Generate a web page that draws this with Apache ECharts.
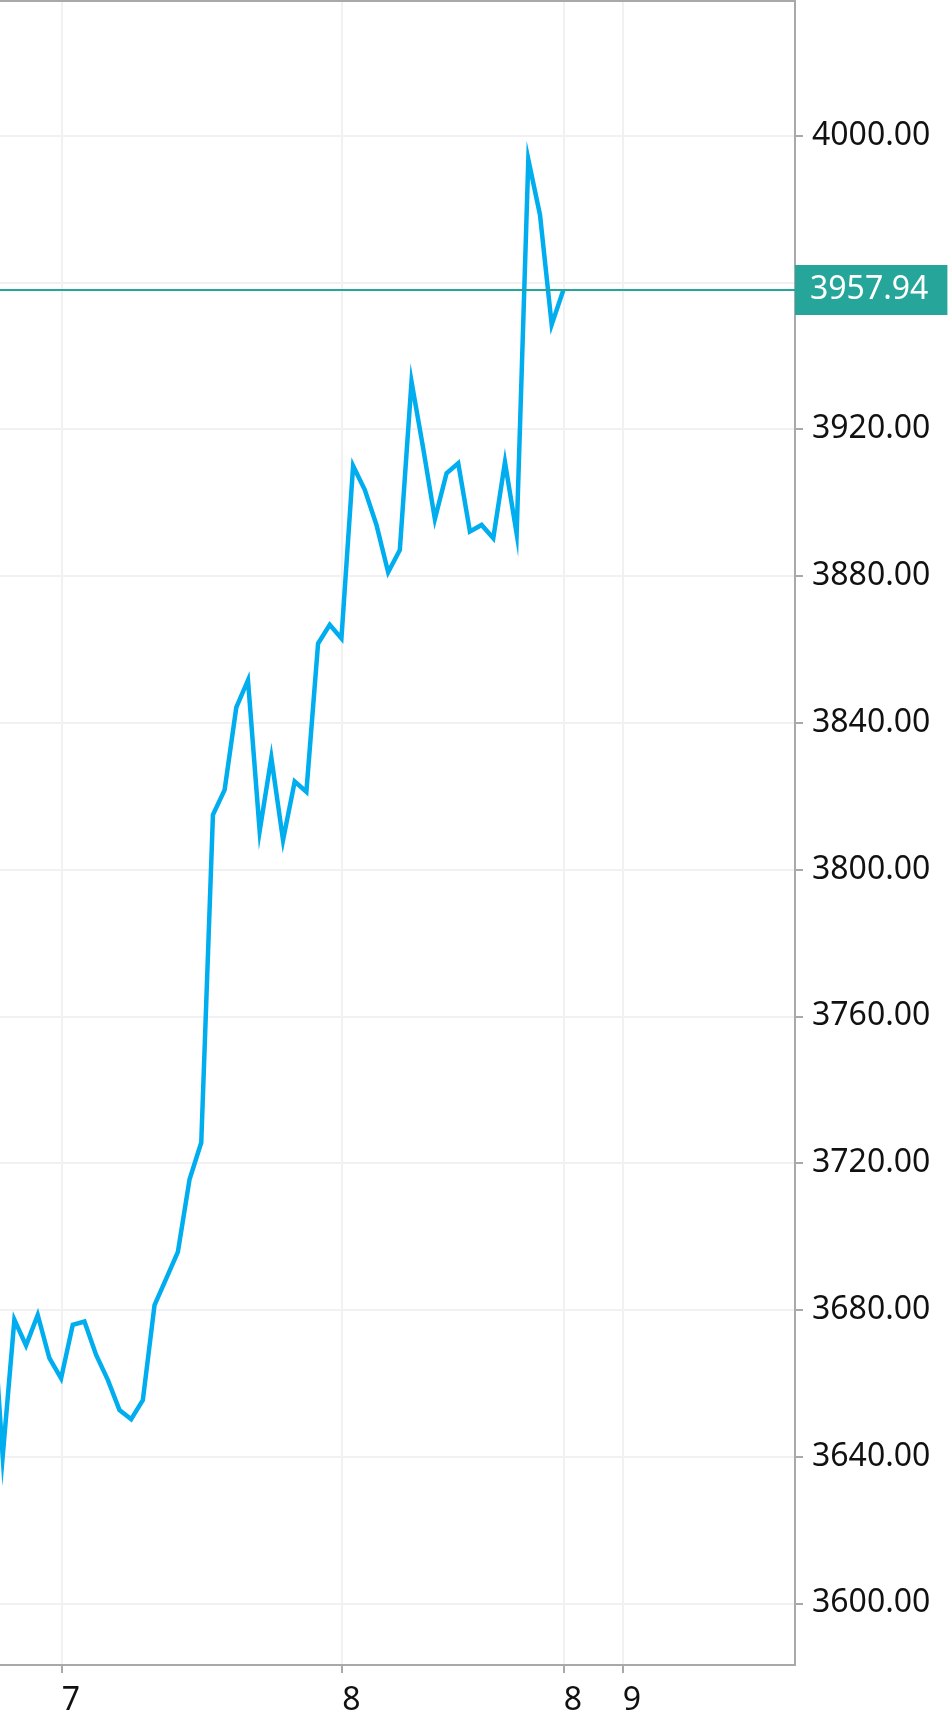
<!DOCTYPE html>
<html><head><meta charset="utf-8">
<script src="https://cdn.jsdelivr.net/npm/echarts@6/dist/echarts.min.js"></script>
<style>html,body{margin:0;padding:0;background:#fff}#c{width:949px;height:1730px}</style>
</head><body><div id="c"></div>
<script>
// ---- data ----
const startIndex = -1;
const prices = [
  3688.0, 3640.0, 3677.3, 3670.3, 3678.6, 3666.8, 3661.3, 3675.9, 3676.8, 3667.7,
  3660.9, 3652.7, 3650.2, 3655.4, 3681.3, 3688.5, 3695.8, 3715.6, 3725.6, 3814.9,
  3821.7, 3844.2, 3851.6, 3810.5, 3830.5, 3808.0, 3824.0, 3821.2, 3861.6, 3866.7,
  3863.0, 3910.0, 3903.5, 3893.9, 3881.0, 3887.1, 3933.0, 3914.8, 3895.5, 3908.0,
  3910.7, 3892.1, 3893.9, 3890.3, 3911.0, 3891.5, 3993.5, 3978.4, 3948.5, 3957.94
];
const lastPrice = 3957.94;
const yTickValues = [3600, 3640, 3680, 3720, 3760, 3800, 3840, 3880, 3920, 3960, 4000];
const yLabelValues = [3600, 3640, 3680, 3720, 3760, 3800, 3840, 3880, 3920, 4000];
const xTickValues = [5.05, 29.07, 48.04, 53.08];
const xTickLabels = ['7', '8', '8', '9'];

// ---- chart ----
const FONT = '"Noto Sans", sans-serif';
const AXIS_GRAY = '#a9a9a9';
const GRID_GRAY = '#f1f1f3';
const TEXT = '#111111';
const chart = echarts.init(document.getElementById('c'), null, {renderer: 'canvas'});
const seriesData = prices.map((v, i) => [startIndex + i, v]);

chart.setOption({
  animation: false,
  backgroundColor: '#ffffff',
  grid: {left: 0, right: 154, top: 1, bottom: 65, containLabel: false},
  xAxis: [{
    type: 'value', position: 'bottom', min: -0.23, max: 67.83,
    axisLine: {show: true, onZero: false, lineStyle: {color: AXIS_GRAY, width: 2}},
    axisTick: {show: true, customValues: xTickValues, length: 8, lineStyle: {color: AXIS_GRAY, width: 2}},
    axisLabel: {
      show: true, customValues: xTickValues, align: 'left', margin: 20,
      fontSize: 32, fontFamily: FONT, color: TEXT,
      formatter: function (val) {
        let best = 0, d = Infinity;
        xTickValues.forEach((t, i) => { if (Math.abs(t - val) < d) { d = Math.abs(t - val); best = i; } });
        return xTickLabels[best];
      }
    },
    splitLine: {show: true, lineStyle: {color: GRID_GRAY, width: 2}}
  }, {
    type: 'value', position: 'top', min: -0.23, max: 67.83,
    axisLine: {show: true, onZero: false, lineStyle: {color: AXIS_GRAY, width: 2}},
    axisTick: {show: false}, axisLabel: {show: false}, splitLine: {show: false}
  }],
  yAxis: {
    type: 'value', position: 'right', min: 3583.2, max: 4036.7, scale: true,
    axisLine: {show: true, onZero: false, lineStyle: {color: AXIS_GRAY, width: 2}},
    axisTick: {show: true, customValues: yTickValues, length: 8, lineStyle: {color: AXIS_GRAY, width: 2}},
    axisLabel: {
      show: true, customValues: yLabelValues, margin: 17,
      fontSize: 32, fontFamily: FONT, color: TEXT,
      formatter: v => Number(v).toFixed(2)
    },
    splitLine: {show: true, lineStyle: {color: GRID_GRAY, width: 2}}
  },
  series: [{
    type: 'line', xAxisIndex: 0, yAxisIndex: 0,
    data: seriesData, showSymbol: false, symbol: 'none', clip: true,
    lineStyle: {color: '#00aeef', width: 4.5, join: 'miter', miterLimit: 20},
    emphasis: {disabled: true},
    markLine: {
      silent: true, symbol: ['none', 'none'], animation: false,
      lineStyle: {color: '#26a69a', width: 2, type: 'solid'},
      emphasis: {disabled: true},
      label: {
        show: true, position: 'end', distance: 0,
        formatter: () => lastPrice.toFixed(2),
        backgroundColor: '#26a69a', color: '#ffffff',
        fontSize: 32, fontFamily: FONT, lineHeight: 32,
        padding: [9, 19, 9, 15]
      },
      data: [{yAxis: lastPrice}]
    }
  }]
});
</script>
</body></html>
